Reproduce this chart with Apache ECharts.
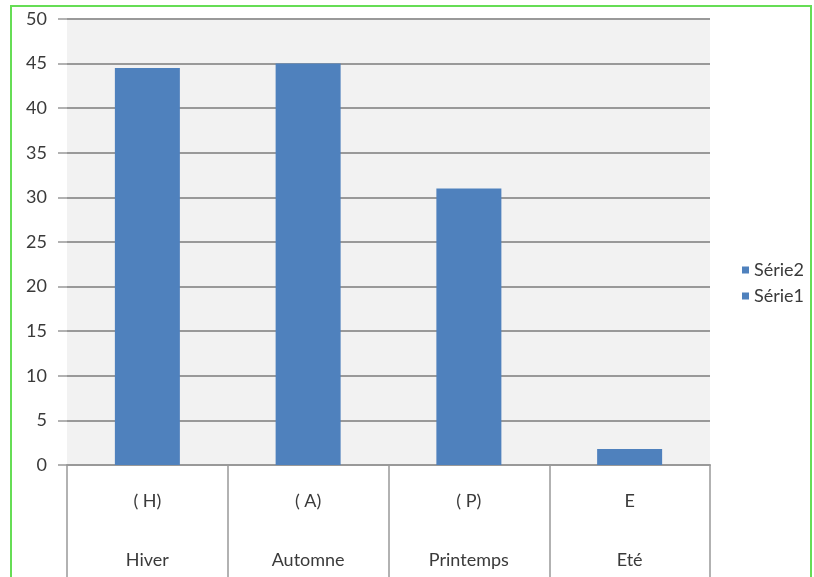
<!DOCTYPE html>
<html>
<head>
<meta charset="utf-8">
<script src="https://cdn.jsdelivr.net/npm/echarts@6/dist/echarts.min.js"></script>
<style>
  html, body {margin: 0; padding: 0; background: #fff;}
  #display {width: 814px; height: 577px;}
</style>
</head>
<body>
<div id="display"></div>
<script>
var codes = ['( H)', '( A)', '( P)', 'E'];
var seasons = ['Hiver', 'Automne', 'Printemps', 'Eté'];
var serie1 = [44.5, 45, 31, 1.8];
var serie2 = [0, 0, 0, 0];
var yTicks = [0, 50, 5];   // min, max, interval

var barColor = '#4f81bd';
var txtFont = 'Lato';
var txtSize = 18;

var option = {
    animation: false,
    textStyle: {fontFamily: txtFont},
    graphic: [{
        type: 'rect',
        shape: {x: 11, y: 6, width: 800, height: 580},
        style: {fill: 'none', stroke: '#66dd55', lineWidth: 2},
        silent: true
    }],
    legend: {
        data: ['Série2', 'Série1'],
        orient: 'vertical',
        left: 737,
        top: 256,
        itemWidth: 7,
        itemHeight: 7,
        itemGap: 8,
        icon: 'rect',
        textStyle: {fontSize: txtSize, color: '#3a3a3a', fontFamily: txtFont}
    },
    grid: {
        left: 67, right: 104, top: 19, bottom: 112,
        outerBoundsMode: 'none',
        show: true, backgroundColor: '#f2f2f2', borderWidth: 0
    },
    xAxis: {
        type: 'category',
        data: codes.map(function (c, i) { return c + '\n' + seasons[i]; }),
        axisLine: {lineStyle: {color: '#999', width: 2}},
        axisTick: {show: true, interval: 0, length: 112, lineStyle: {color: '#999', width: 1.5}},
        axisLabel: {
            interval: 0, margin: 7, lineHeight: 59,
            fontSize: txtSize, color: '#3a3a3a', fontFamily: txtFont
        }
    },
    yAxis: {
        type: 'value',
        min: yTicks[0], max: yTicks[1], interval: yTicks[2],
        axisLine: {show: false},
        axisTick: {show: true, length: 9, lineStyle: {color: '#999', width: 1.5}},
        axisLabel: {fontSize: txtSize, color: '#3a3a3a', margin: 20, fontFamily: txtFont},
        splitLine: {lineStyle: {color: '#999', width: 2}}
    },
    series: [{
        name: 'Série1',
        type: 'bar',
        stack: 's',
        barWidth: 65,
        itemStyle: {color: barColor},
        data: serie1
    }, {
        name: 'Série2',
        type: 'bar',
        stack: 's',
        barWidth: 65,
        itemStyle: {color: barColor},
        data: serie2
    }]
};

var myChart = echarts.init(document.getElementById('display'));
myChart.setOption(option);
</script>
</body>
</html>
